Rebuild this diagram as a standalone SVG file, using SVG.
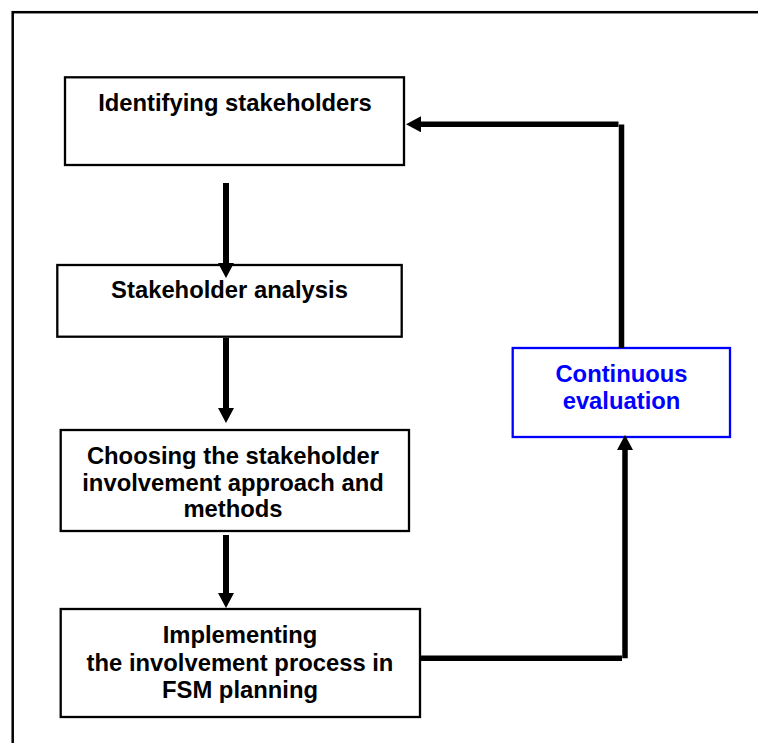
<svg xmlns="http://www.w3.org/2000/svg" width="758" height="743" viewBox="0 0 758 743">
  <style>
    .box { fill: #ffffff; stroke: #000000; stroke-width: 2.3; }
    .blue { fill: #ffffff; stroke: #0000ff; stroke-width: 2.3; }
    .lbl { font-family: "Liberation Sans", Arial, sans-serif; font-weight: bold; font-size: 23.8px; text-anchor: middle; fill: #000000; }
    .lblb { font-family: "Liberation Sans", Arial, sans-serif; font-weight: bold; font-size: 23.8px; text-anchor: middle; fill: #0000ff; }
    .conn { fill: none; stroke: #000000; stroke-width: 5.5; stroke-linecap: butt; }
    .connv { fill: none; stroke: #000000; stroke-width: 6; stroke-linecap: butt; }
  </style>
  <defs>
    <marker id="ah" viewBox="0 0 15 16" refX="0" refY="8" markerWidth="15" markerHeight="16" markerUnits="userSpaceOnUse" orient="auto">
      <path d="M0,0 L15,8 L0,16 z" fill="#000000"/>
    </marker>
  </defs>
  <rect x="12.7" y="12.2" width="800" height="800" fill="none" stroke="#000000" stroke-width="2.5"/>

  <g id="n1">
    <rect class="box" x="65" y="77.3" width="339" height="87.7"/>
    <text class="lbl" x="235" y="111">Identifying stakeholders</text>
  </g>
  <g id="n2">
    <rect class="box" x="57.3" y="265" width="344.4" height="71.7"/>
    <text class="lbl" x="229.5" y="298">Stakeholder analysis</text>
  </g>
  <g id="n3">
    <rect class="box" x="60.7" y="430" width="348.3" height="101"/>
    <text class="lbl" x="233" y="464">Choosing the stakeholder</text>
    <text class="lbl" x="233" y="491">involvement approach and</text>
    <text class="lbl" x="233" y="517">methods</text>
  </g>
  <g id="n4">
    <rect class="box" x="60.7" y="609" width="359.3" height="108"/>
    <text class="lbl" x="240" y="643">Implementing</text>
    <text class="lbl" x="240" y="671">the involvement process in</text>
    <text class="lbl" x="240" y="698">FSM planning</text>
  </g>
  <g id="n5">
    <rect class="blue" x="512.7" y="348" width="217.3" height="89"/>
    <text class="lblb" x="621.5" y="382">Continuous</text>
    <text class="lblb" x="621.5" y="409">evaluation</text>
  </g>

  <g id="connectors">
    <line class="connv" x1="226" y1="183" x2="226" y2="263" marker-end="url(#ah)"/>
    <line class="connv" x1="226" y1="338" x2="226" y2="408" marker-end="url(#ah)"/>
    <line class="connv" x1="226" y1="535" x2="226" y2="593" marker-end="url(#ah)"/>
    <line class="conn" x1="420" y1="658.3" x2="622" y2="658.3"/>
    <line class="conn" x1="625" y1="658.3" x2="625" y2="450" marker-end="url(#ah)"/>
    <line class="conn" x1="621.5" y1="348" x2="621.5" y2="124.5"/>
    <line class="conn" x1="618.5" y1="124.3" x2="421" y2="124.3" marker-end="url(#ah)"/>
  </g>
</svg>
